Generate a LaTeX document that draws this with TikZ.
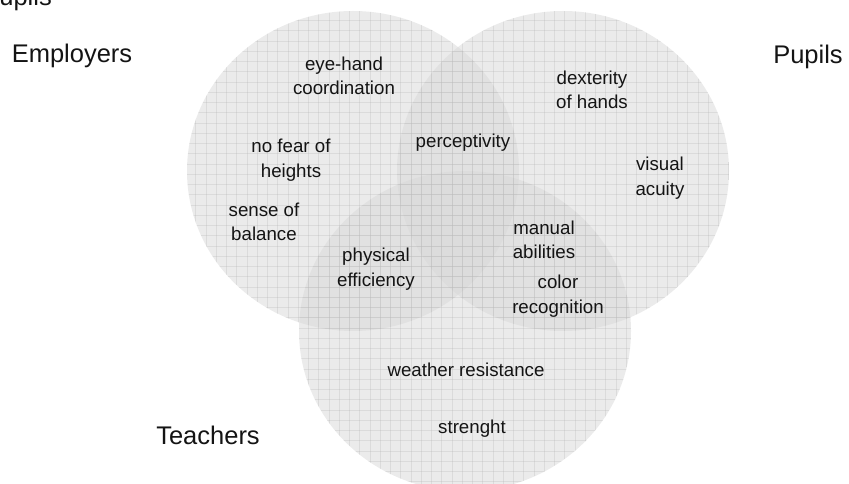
\documentclass[tikz,border=0pt]{standalone}
\usepackage{fontspec}
\setmainfont{Liberation Sans}
\definecolor{setgray}{RGB}{215,215,215}
\definecolor{gridgray}{RGB}{181,181,181}
\definecolor{labeltext}{RGB}{20,20,20}
\begin{document}
\begin{tikzpicture}[x=1pt,y=-1pt,
  setfill/.style={fill=setgray, fill opacity=0.5},
  gridline/.style={draw=gridgray, line width=0.8pt, draw opacity=0.3},
  item/.style={font=\fontsize{18.7}{24.5}\selectfont, align=center, inner sep=0pt, text=labeltext},
  setname/.style={font=\fontsize{25.5}{30}\selectfont, inner sep=0pt, text=labeltext}]
\useasboundingbox (0,0) rectangle (849,484);
\clip (0,0) rectangle (849,484);

% the three sets: translucent discs, each with its own grid
\foreach \cx/\cy in {353/171, 563/171, 465/331} {
  \path[setfill] (\cx,\cy) ellipse [x radius=166pt, y radius=160pt];
  \begin{scope}
    \clip (\cx,\cy) ellipse [x radius=166pt, y radius=160pt];
    \foreach \i in {0,...,84} \draw[gridline] (1+\i*10.25,0) -- ++(0,484);
    \foreach \j in {0,...,48} \draw[gridline] (0,\j*10.25) -- ++(849,0);
  \end{scope}
}

% set names
\node[setname, anchor=base east] (pupilsTop) at (52,6) {Pupils};
\node[setname] (employers) at (72,56) {Employers};
\node[setname] (pupils) at (808,57) {Pupils};
\node[setname] (teachers) at (208,435) {Teachers};

% abilities
\node[item] (eyehand) at (344,76) {eye-hand\\coordination};
\node[item] (nofear) at (291,160) {no fear of\\heights};
\node[item] (balance) at (264,222) {sense of\\balance};
\node[item] (percept) at (463,143) {perceptivity};
\node[item] (dexterity) at (592,90) {dexterity\\of hands};
\node[item] (visual) at (660,178) {visual\\acuity};
\node[item] (physical) at (376,269) {physical\\efficiency};
\node[item] (manual) at (544,240) {manual\\abilities};
\node[item] (color) at (558,296) {color\\recognition};
\node[item] (weather) at (466,370) {weather resistance};
\node[item] (strength) at (472,429) {strenght};
\end{tikzpicture}
\end{document}
